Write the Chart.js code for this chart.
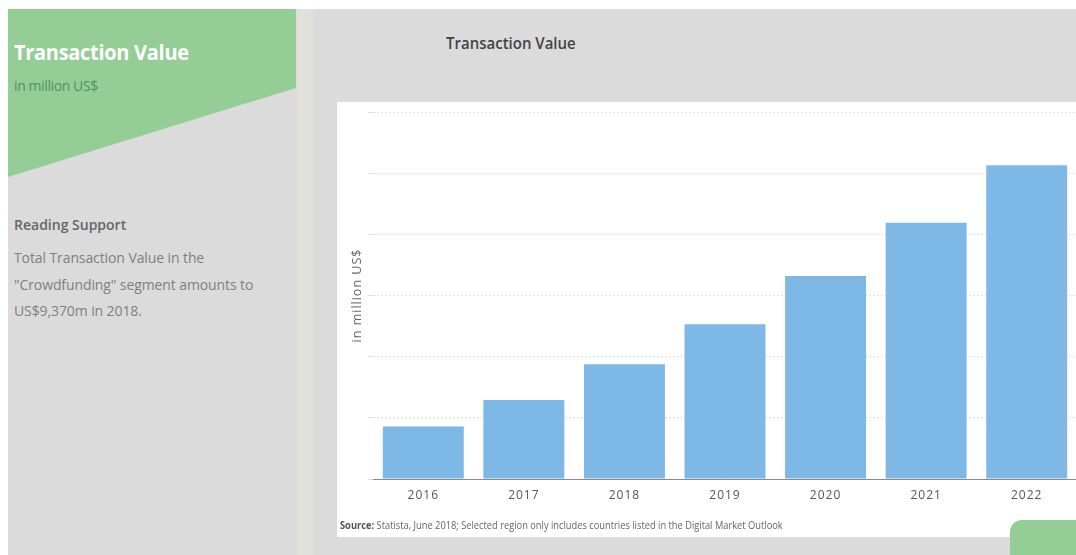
<!DOCTYPE html>
<html>
<head>
<meta charset="utf-8">
<script src="https://cdn.jsdelivr.net/npm/chart.js@4/dist/chart.umd.min.js"></script>
<style>
  html, body { margin: 0; padding: 0; }
  body { width: 1076px; height: 555px; overflow: hidden; background: #ffffff; position: relative; font-family: "Open Sans", "Noto Sans", sans-serif; }
  .bg { position: absolute; left: 8px; top: 9px; width: 1068px; height: 546px; background: #dbdbdb; }
  .strip { position: absolute; left: 297px; top: 9px; width: 16px; height: 546px; background: #e3dfdb; }
  .green { position: absolute; left: 8px; top: 9px; width: 288px; height: 168px; background: #95cd96;
           clip-path: polygon(0 0, 100% 0, 100% 79px, 0 100%); }
  .t1 { position: absolute; left: 14px; top: 37px; font-size: 20px; font-weight: 700; color: #ffffff; letter-spacing: -0.3px; transform: scaleY(1.1); transform-origin: left top; white-space: nowrap; }
  .t2 { position: absolute; left: 14px; top: 76px; font-size: 14px; color: #4f9561; letter-spacing: -0.4px; white-space: nowrap; }
  .rs { position: absolute; left: 14px; top: 215px; font-size: 14px; font-weight: 600; color: #666; white-space: nowrap; }
  .body { position: absolute; left: 14px; top: 245px; font-size: 14px; line-height: 26.5px; color: #808080; width: 290px; letter-spacing: -0.1px; }
  .ctitle { position: absolute; left: 446px; top: 31px; font-size: 15px; font-weight: 600; color: #444; white-space: nowrap; transform: scaleY(1.1); transform-origin: left top; }
  .panel { position: absolute; left: 337px; top: 102px; width: 760px; height: 435px; background: #ffffff; }
  #chart { position: absolute; left: 337px; top: 102px; }
  .src { position: absolute; left: 340px; top: 517px; font-size: 9.3px; color: #666; white-space: nowrap; transform: scaleY(1.2); transform-origin: left top; }
  .src b { color: #555; }
  .btn { position: absolute; left: 1010px; top: 520px; width: 80px; height: 50px; background: #95cd96; border-radius: 12px 0 0 0; }
</style>
</head>
<body>
<div class="bg"></div>
<div class="strip"></div>
<div class="green"></div>
<div class="t1">Transaction Value</div>
<div class="t2">in million US$</div>
<div class="rs">Reading Support</div>
<div class="body">Total Transaction Value in the<br>"Crowdfunding" segment amounts to<br>US$9,370m in 2018.</div>
<div class="ctitle">Transaction Value</div>
<div class="panel"></div>
<canvas id="chart" width="750" height="435"></canvas>
<div class="src"><b>Source:</b> Statista, June 2018; Selected region only includes countries listed in the Digital Market Outlook</div>
<div class="btn"></div>
<script>
// Crowdfunding transaction value, million US$
const years = ["2016", "2017", "2018", "2019", "2020", "2021", "2022"];
const transactionValue = [4300, 6450, 9370, 12650, 16600, 20950, 25650];
const yAxisTitle = "in million US$";

const spacedText = {
  id: "spacedText",
  beforeDraw(chart) { chart.ctx.letterSpacing = "1px"; }
};

new Chart(document.getElementById("chart"), {
  type: "bar",
  data: {
    labels: years,
    datasets: [{
      data: transactionValue,
      backgroundColor: "#7db8e6",
      borderWidth: 0,
      barPercentage: 0.805,
      categoryPercentage: 1.0
    }]
  },
  options: {
    responsive: false,
    animation: false,
    layout: { padding: { top: 10, right: 10, left: 0, bottom: 0 } },
    plugins: { legend: { display: false }, tooltip: { enabled: false } },
    scales: {
      x: {
        grid: { display: false, drawTicks: false },
        border: { display: true, color: "#8a8a8a", width: 1 },
        ticks: { color: "#555", font: { family: "Open Sans", size: 12 }, padding: 9 },
        afterFit(scale) { scale.height = 58; }
      },
      y: {
        min: 0,
        max: 30000,
        ticks: { display: false, stepSize: 5000 },
        grid: { color: "#e0e0e0", lineWidth: 1, drawTicks: true, tickLength: 5 },
        border: { display: false, dash: [2, 2] },
        title: {
          display: true,
          text: yAxisTitle,
          color: "#666",
          font: { family: "Open Sans", size: 12.5 },
          padding: { top: 13, bottom: 0 }
        },
        afterFit(scale) { scale.width = 36; }
      }
    }
  },
  plugins: [spacedText]
});
</script>
</body>
</html>
